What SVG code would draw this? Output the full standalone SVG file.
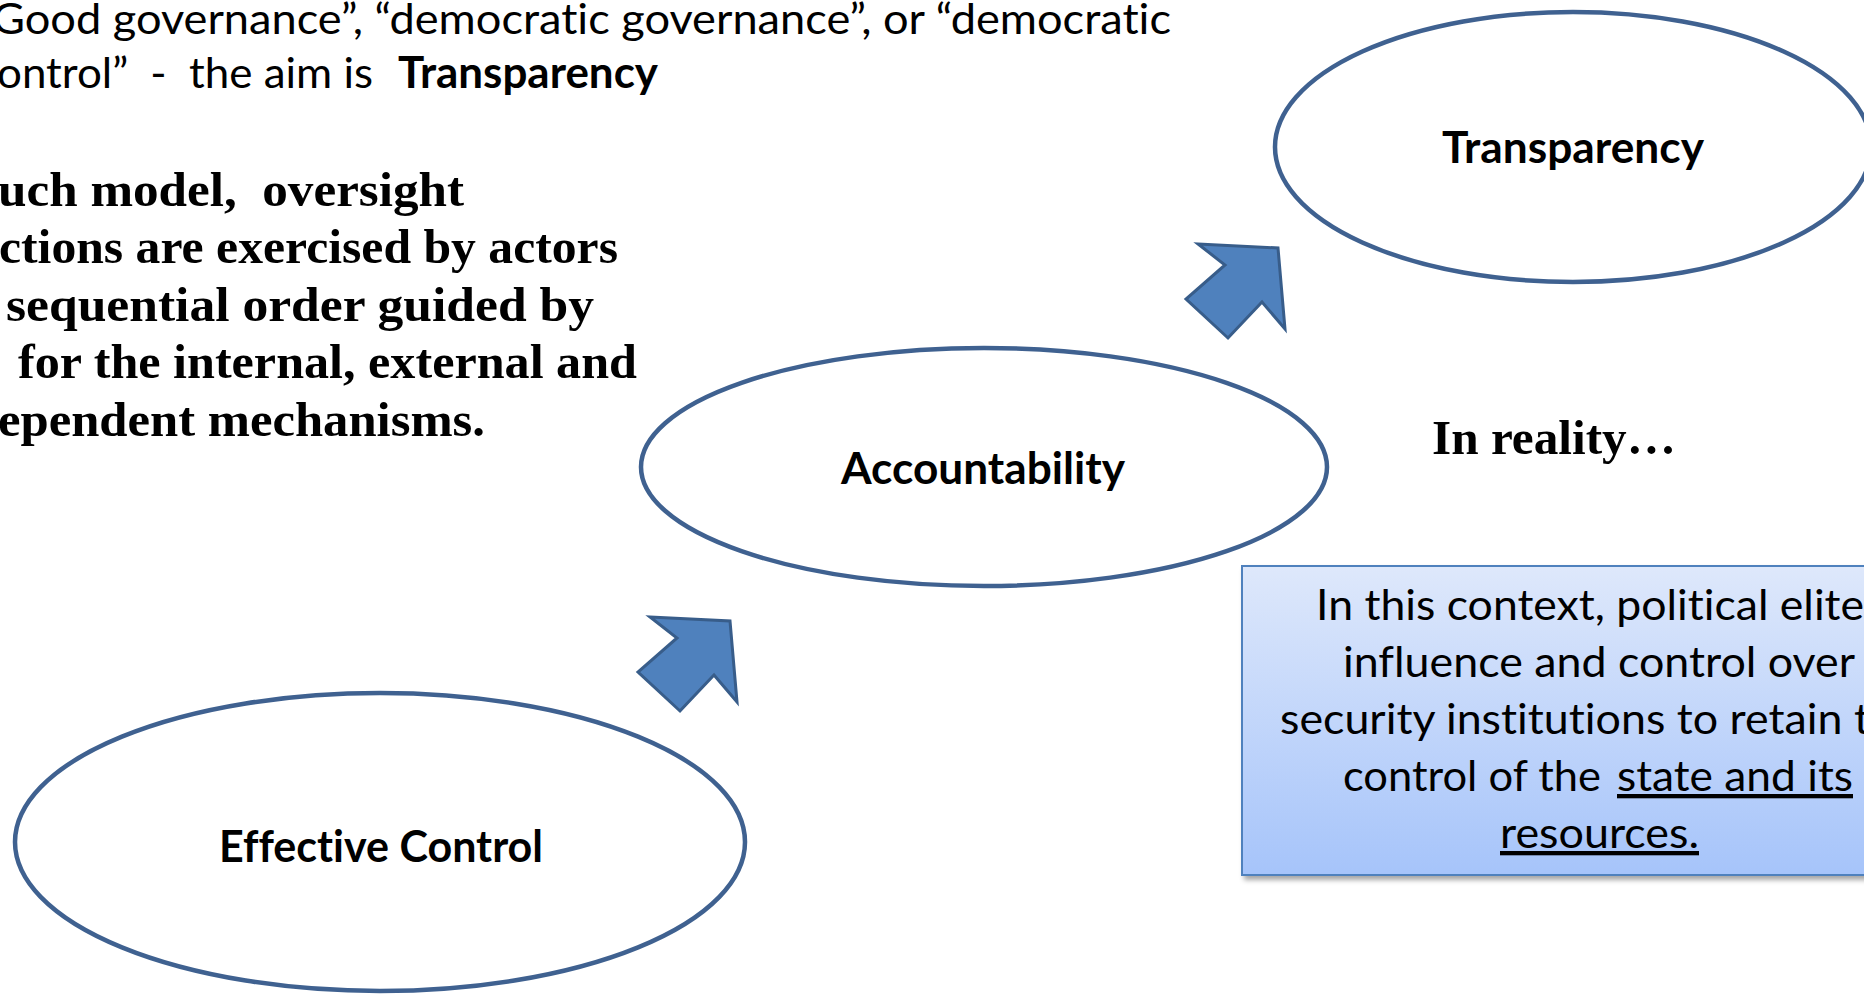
<svg xmlns="http://www.w3.org/2000/svg" width="1864" height="994" viewBox="0 0 1864 994">
  <defs>
    <style>
      text { font-variant-ligatures: none; font-feature-settings: "liga" 0, "clig" 0; }
      .sans { font-family: Lato, "Open Sans", "Liberation Sans", sans-serif; font-size: 43px; fill: #000; white-space: pre; }
      .sans-b { font-family: Lato, "Open Sans", "Liberation Sans", sans-serif; font-size: 43px; font-weight: 700; fill: #000; }
      .serif-b { font-family: "Liberation Serif", "DejaVu Serif", serif; font-size: 49px; font-weight: 700; fill: #000; white-space: pre; }
      .stage { fill: #fff; stroke: #3F6190; stroke-width: 4.5; }
      .step-arrow { fill: #4F81BD; stroke: #385D8A; stroke-width: 3; stroke-linejoin: miter; }
      .box { fill: url(#boxFill); stroke: #4F81BD; stroke-width: 2; }
    </style>
    <linearGradient id="boxFill" x1="0" y1="0" x2="0" y2="1">
      <stop offset="0" stop-color="#DEE8FB"/>
      <stop offset="1" stop-color="#A6C4FA"/>
    </linearGradient>
    <filter id="boxShadow" x="-5%" y="-5%" width="115%" height="115%">
      <feDropShadow dx="3" dy="4" stdDeviation="2.5" flood-color="#000" flood-opacity="0.35"/>
    </filter>
    <!-- block arrow pointing up and to the right -->
    <polygon id="upArrow" class="step-arrow" points="1198,244 1278,248 1285,329 1262,302 1228,338 1186,299 1225,265"/>
  </defs>

  <rect width="1864" height="994" fill="#fff"/>

  <!-- heading lines -->
  <g id="intro">
    <text class="sans" x="-8" y="34" textLength="1179" lengthAdjust="spacingAndGlyphs">Good governance”, “democratic governance”, or “democratic</text>
    <text class="sans" x="-3" y="88" textLength="376" lengthAdjust="spacingAndGlyphs">ontrol”  -  the aim is</text>
    <text class="sans-b" x="398" y="88" textLength="260" lengthAdjust="spacingAndGlyphs">Transparency</text>
  </g>

  <!-- model description -->
  <g id="model-text">
    <text class="serif-b" x="-2" y="206" textLength="466" lengthAdjust="spacingAndGlyphs">uch model,  oversight</text>
    <text class="serif-b" x="-1" y="263" textLength="619" lengthAdjust="spacingAndGlyphs">ctions are exercised by actors</text>
    <text class="serif-b" x="6" y="321" textLength="588" lengthAdjust="spacingAndGlyphs">sequential order guided by</text>
    <text class="serif-b" x="18" y="378" textLength="619" lengthAdjust="spacingAndGlyphs">for the internal, external and</text>
    <text class="serif-b" x="-2" y="436" textLength="487" lengthAdjust="spacingAndGlyphs">ependent mechanisms.</text>
  </g>

  <!-- stages -->
  <g id="node-effective-control">
    <ellipse class="stage" cx="380" cy="842" rx="365" ry="149"/>
    <text class="sans-b" x="381" y="862" text-anchor="middle" textLength="324" lengthAdjust="spacingAndGlyphs">Effective Control</text>
  </g>
  <g id="node-accountability">
    <ellipse class="stage" cx="984" cy="467" rx="343" ry="119"/>
    <text class="sans-b" x="983" y="484" text-anchor="middle" textLength="284" lengthAdjust="spacingAndGlyphs">Accountability</text>
  </g>
  <g id="node-transparency">
    <ellipse class="stage" cx="1573" cy="147" rx="298" ry="135"/>
    <text class="sans-b" x="1573" y="163" text-anchor="middle" textLength="262" lengthAdjust="spacingAndGlyphs">Transparency</text>
  </g>

  <!-- progression arrows -->
  <g id="connectors">
    <use href="#upArrow" transform="translate(-548 373)"/>
    <use href="#upArrow"/>
  </g>

  <g id="reality-label">
    <text class="serif-b" x="1554" y="454" text-anchor="middle" textLength="244" lengthAdjust="spacingAndGlyphs">In reality…</text>
  </g>

  <!-- explanatory box -->
  <g id="reality-box">
    <rect class="box" x="1242" y="566" width="720" height="309" filter="url(#boxShadow)"/>
    <text class="sans" x="1316" y="620" textLength="548" lengthAdjust="spacingAndGlyphs">In this context, political elite</text>
    <text class="sans" x="1343" y="677" textLength="512" lengthAdjust="spacingAndGlyphs">influence and control over</text>
    <text class="sans" x="1280" y="734" textLength="590" lengthAdjust="spacingAndGlyphs">security institutions to retain t</text>
    <text class="sans" y="791"><tspan x="1343" textLength="258" lengthAdjust="spacingAndGlyphs">control of the</tspan><tspan x="1617" textLength="236" lengthAdjust="spacingAndGlyphs" text-decoration="underline">state and its</tspan></text>
    <text class="sans" x="1500" y="848" textLength="199" lengthAdjust="spacingAndGlyphs" text-decoration="underline">resources.</text>
  </g>
</svg>
